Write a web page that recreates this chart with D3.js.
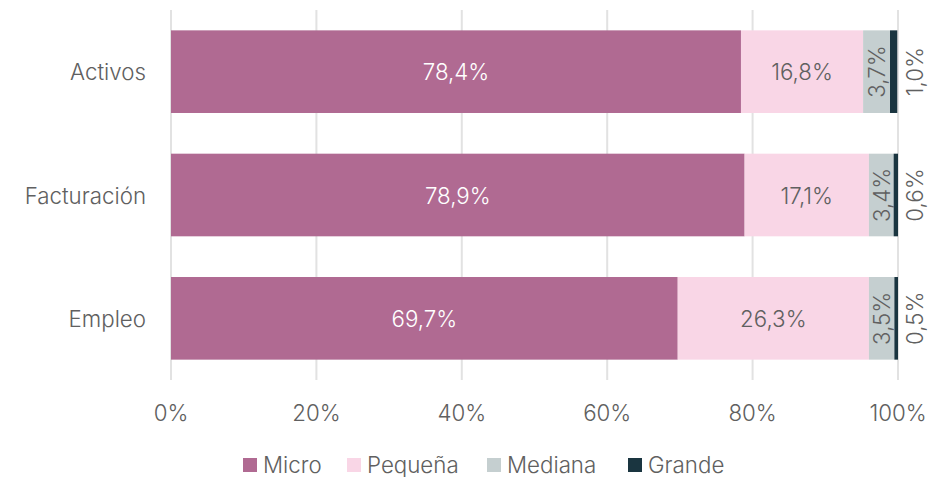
<!DOCTYPE html>
<html><head><meta charset="utf-8">
<script src="https://cdn.jsdelivr.net/npm/d3@7"></script>
<style>body{margin:0;background:#fff}svg{display:block}text{font-family:Inter,"Noto Sans",sans-serif;font-weight:300}</style>
</head><body><svg id="c" width="932" height="477"></svg>
<script>
const categories = ["Activos", "Facturación", "Empleo"];
const seriesNames = ["Micro", "Pequeña", "Mediana", "Grande"];
const micro = [78.4, 78.9, 69.7];
const pequena = [16.8, 17.1, 26.3];
const mediana = [3.7, 3.4, 3.5];
const grande = [1.0, 0.6, 0.5];
const xTicks = [0, 20, 40, 60, 80, 100];
const colors = ["#b06a92", "#f9d6e6", "#c5cfd0", "#1a3540"];

const seriesVals = [micro, pequena, mediana, grande];
const rows = categories.map((c, i) => {
  const r = {cat: c};
  seriesNames.forEach((s, j) => r[s] = seriesVals[j][i]);
  return r;
});
const stacked = d3.stack().keys(seriesNames)(rows);

const svg = d3.select("#c");
const x = d3.scaleLinear().domain([0, 100]).range([171, 898]);
const y = d3.scaleBand().domain(categories).range([10, 380]).paddingInner(0.33).paddingOuter(0.165);
const fmt = v => d3.format(".1f")(v).replace(".", ",") + "%";
const FS = 22.3;
const txt = "#606060";

// grid
svg.append("g").selectAll("line").data(xTicks).join("line")
  .attr("x1", d => x(d)).attr("x2", d => x(d)).attr("y1", 10).attr("y2", 380)
  .attr("stroke", "#e2e2e2").attr("stroke-width", 2);

// bars
const g = svg.append("g");
stacked.forEach((layer, j) => {
  g.append("g").attr("fill", colors[j]).selectAll("rect").data(layer).join("rect")
    .attr("x", d => x(d[0])).attr("width", d => x(d[1]) - x(d[0]))
    .attr("y", d => y(d.data.cat)).attr("height", y.bandwidth());
});

// labels
const lab = svg.append("g").attr("font-size", FS);
stacked.forEach((layer, j) => {
  layer.forEach(d => {
    const v = d[1] - d[0];
    const cy = y(d.data.cat) + y.bandwidth() / 2;
    if (j < 2) {
      lab.append("text").attr("x", (x(d[0]) + x(d[1])) / 2).attr("y", cy)
        .attr("text-anchor", "middle").attr("dominant-baseline", "central")
        .attr("fill", j === 0 ? "#ffffff" : txt).text(fmt(v));
    } else {
      const cx = j === 2 ? (x(d[0]) + x(d[1])) / 2 : 914;
      lab.append("text").attr("transform", `translate(${cx},${cy}) rotate(-90)`)
        .attr("text-anchor", "middle").attr("dominant-baseline", "central")
        .attr("fill", txt).text(fmt(v));
    }
  });
});

// y axis labels
svg.append("g").attr("font-size", FS).selectAll("text").data(categories).join("text")
  .attr("x", 146).attr("y", d => y(d) + y.bandwidth() / 2)
  .attr("text-anchor", "end").attr("dominant-baseline", "central")
  .attr("fill", txt).text(d => d);

// x axis labels
svg.append("g").attr("font-size", FS).selectAll("text").data(xTicks).join("text")
  .attr("x", d => x(d)).attr("y", 412).attr("text-anchor", "middle").attr("dominant-baseline", "central")
  .attr("fill", txt).text(d => d + "%");

// legend
const legX = [243, 347, 487, 628];
const leg = svg.append("g").attr("font-size", FS);
seriesNames.forEach((s, j) => {
  leg.append("rect").attr("x", legX[j]).attr("y", 458).attr("width", 14).attr("height", 14).attr("fill", colors[j]);
  leg.append("text").attr("x", legX[j] + 20).attr("y", 464).attr("dominant-baseline", "central")
    .attr("fill", txt).text(s);
});
</script></body></html>
